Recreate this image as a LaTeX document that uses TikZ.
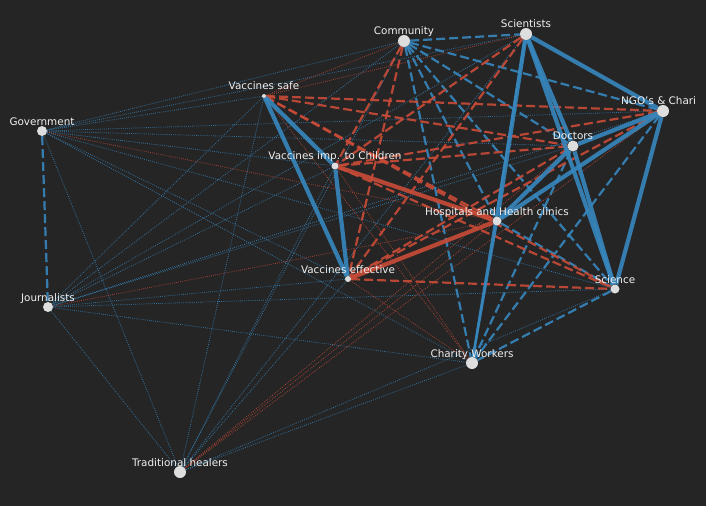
\documentclass[tikz,border=0pt]{standalone}
\usepackage{fontspec}
\setmainfont{DejaVu Sans}
\definecolor{bgc}{RGB}{37,37,37}
\definecolor{eb}{RGB}{55,135,190}
\definecolor{er}{RGB}{200,75,55}
\definecolor{nd}{RGB}{222,222,222}
\definecolor{tx}{RGB}{240,240,240}
\pgfdeclarelayer{back}
\pgfdeclarelayer{edges}
\pgfsetlayers{back,edges,main}
\tikzset{
  pt/.style={circle,fill=nd,inner sep=0pt,draw=none},
  lbl/.style={text=tx,font=\fontsize{10.4}{12}\selectfont,inner sep=0pt,anchor=base},
  bT/.style={draw=eb,line width=4.2pt,opacity=0.9},
  bM/.style={draw=eb,line width=2.4pt,opacity=0.9},
  bD/.style={draw=eb,line width=2.2pt,dash pattern=on 9pt off 4pt,opacity=0.9},
  bd/.style={draw=eb,line width=0.8pt,dash pattern=on 0.8pt off 1.3pt,opacity=0.8},
  rT/.style={draw=er,line width=4.2pt,opacity=0.9},
  rD/.style={draw=er,line width=2.2pt,dash pattern=on 9pt off 4pt,opacity=0.9},
  rd/.style={draw=er,line width=0.8pt,dash pattern=on 0.8pt off 1.3pt,opacity=0.8},
}
\begin{document}
\begin{tikzpicture}[x=1pt,y=-1pt]
\begin{pgfonlayer}{back}
\fill[bgc] (0,0) rectangle (706,506);
\end{pgfonlayer}
\useasboundingbox (0,0) rectangle (706,506);
% nodes
\node[pt,minimum size=12pt] (com) at (404,41) {};
\node[pt,minimum size=12pt] (sci) at (526,34) {};
\node[pt,minimum size=4pt]  (vs)  at (264,96) {};
\node[pt,minimum size=12pt] (ngo) at (663,111) {};
\node[pt,minimum size=10pt] (gov) at (42,131) {};
\node[pt,minimum size=11pt] (doc) at (573,146) {};
\node[pt,minimum size=7pt]  (vi)  at (335,166) {};
\node[pt,minimum size=9pt]  (hos) at (497,221) {};
\node[pt,minimum size=6pt]  (ve)  at (348,279) {};
\node[pt,minimum size=9pt]  (scn) at (615,289) {};
\node[pt,minimum size=10pt] (jou) at (48,307) {};
\node[pt,minimum size=12pt] (cha) at (472,363) {};
\node[pt,minimum size=12pt] (tra) at (180,472) {};
% labels
\node[lbl] (coml) at (404,34.5) {Community};
\node[lbl] (scil) at (526,27.5) {Scientists};
\node[lbl] (vsl)  at (264,89.5) {Vaccines safe};
\node[lbl,anchor=base west] (ngol) at (621,104.5) {NGO's \& Chari};
\node[lbl] (govl) at (42,125) {Government};
\node[lbl] (docl) at (573,139.5) {Doctors};
\node[lbl] (vil)  at (335,159.5) {Vaccines imp. to Children};
\node[lbl] (hosl) at (497,215) {Hospitals and Health clinics};
\node[lbl] (vel)  at (348,273) {Vaccines effective};
\node[lbl] (scnl) at (615,283) {Science};
\node[lbl] (joul) at (48,301) {Journalists};
\node[lbl] (chal) at (472,357) {Charity Workers};
\node[lbl] (tral) at (180,466) {Traditional healers};
% edges
\begin{pgfonlayer}{edges}
\foreach \a/\b in {com/gov,com/jou,com/tra,sci/gov,sci/jou,sci/tra,vs/gov,vs/jou,vs/tra,
  ngo/gov,ngo/jou,gov/doc,gov/vi,gov/ve,gov/scn,gov/cha,gov/tra,doc/jou,vi/jou,vi/tra,
  ve/jou,ve/tra,scn/jou,scn/tra,jou/cha,jou/tra,cha/tra}
  \draw[bd] (\a) -- (\b);
\foreach \a/\b in {com/vs,sci/vs,vs/cha,ngo/tra,gov/hos,doc/tra,vi/cha,hos/jou,hos/tra,ve/cha}
  \draw[rd] (\a) -- (\b);
\foreach \a/\b in {com/sci,com/ngo,com/doc,com/hos,com/scn,com/cha,ngo/cha,gov/jou,doc/cha,hos/scn,scn/cha}
  \draw[bD] (\a) -- (\b);
\foreach \a/\b in {com/vi,com/ve,sci/vi,sci/ve,vs/ngo,vs/doc,vs/hos,vs/scn,ngo/vi,ngo/ve,doc/vi,doc/ve,vi/scn,ve/scn}
  \draw[rD] (\a) -- (\b);
\foreach \a/\b in {sci/cha,hos/cha}
  \draw[bM] (\a) -- (\b);
\foreach \a/\b in {vi/hos,hos/ve}
  \draw[rT] (\a) -- (\b);
\foreach \a/\b in {sci/ngo,sci/doc,sci/hos,sci/scn,vs/vi,vs/ve,ngo/doc,ngo/hos,ngo/scn,doc/hos,doc/scn,vi/ve}
  \draw[bT] (\a) -- (\b);
\end{pgfonlayer}
\end{tikzpicture}
\end{document}
